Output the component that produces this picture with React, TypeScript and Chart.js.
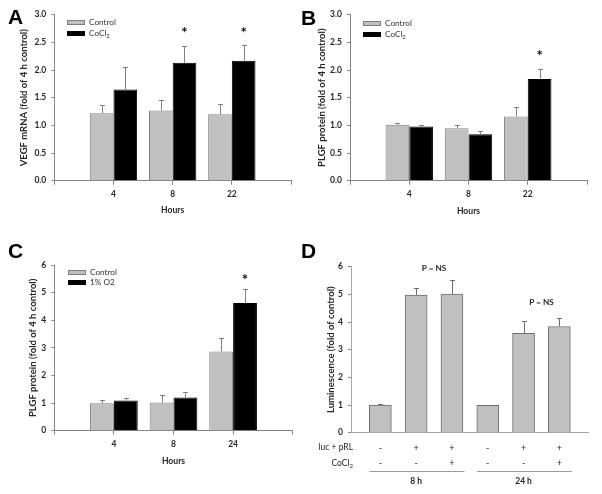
import React, { useEffect, useRef } from 'react';
import { Chart, registerables } from 'chart.js';

Chart.register(...registerables);

const W = 602;
const H = 494;
const FONT = 'Lato, "Open Sans", "DejaVu Sans", sans-serif';
const TEXT = '#262626';
const AXIS = '#868686';

// ---------- Panel A: VEGF mRNA ----------
const hoursA = ['', '4', '8', '22', ''];
const vegfControl = [null, 1.22, 1.27, 1.2, null];
const vegfControlErr = [null, 0.14, 0.19, 0.19, null];
const vegfCoCl2 = [null, 1.65, 2.13, 2.17, null];
const vegfCoCl2Err = [null, 0.4, 0.31, 0.29, null];
const vegfStars = [null, null, 2.72, 2.72, null];

// ---------- Panel B: PLGF protein (CoCl2) ----------
const hoursB = ['', '4', '8', '22', ''];
const plgfControlB = [null, 1.01, 0.95, 1.16, null];
const plgfControlBErr = [null, 0.03, 0.05, 0.17, null];
const plgfCoCl2B = [null, 0.98, 0.84, 1.84, null];
const plgfCoCl2BErr = [null, 0.02, 0.05, 0.17, null];
const plgfStarsB = [null, null, null, 2.31, null];

// ---------- Panel C: PLGF protein (1% O2) ----------
const hoursC = ['', '4', '8', '24', ''];
const plgfControlC = [null, 0.99, 1.02, 2.87, null];
const plgfControlCErr = [null, 0.12, 0.26, 0.47, null];
const plgfHypoxiaC = [null, 1.09, 1.2, 4.62, null];
const plgfHypoxiaCErr = [null, 0.11, 0.21, 0.5, null];
const plgfStarsC = [null, null, null, 5.58, null];

// ---------- Panel D: Luminescence ----------
const lumPositions = [1, 2, 3, 4, 5, 6];
const lumValues = [1.0, 4.97, 5.01, 0.99, 3.59, 3.84];
const lumErr = [0.02, 0.25, 0.5, 0.01, 0.45, 0.3];
const lucRow = ['-', '+', '+', '-', '+', '+'];
const cocl2Row = ['-', '-', '+', '-', '-', '+'];
const timeGroups = ['8 h', '24 h'];
const timeSpans = [[1, 3], [4, 6]];
const pnsPairs = [[2, 3], [5, 6]];
const pnsLevels = [5.95, 4.72];
const pnsText = 'P = NS';

// ---------- helpers ----------
function drawRich(ctx: CanvasRenderingContext2D, text: string, x: number, y: number, size: number, weight: string, align: string) {
  const parts = text.split('\u2082');
  const main = `${weight} ${size}px ${FONT}`;
  const sub = `${weight} ${Math.round(size * 0.68)}px ${FONT}`;
  let total = 0;
  parts.forEach((p, i) => {
    ctx.font = main;
    total += ctx.measureText(p).width;
    if (i < parts.length - 1) {
      ctx.font = sub;
      total += ctx.measureText('2').width;
    }
  });
  let cx = align === 'right' ? x - total : align === 'center' ? x - total / 2 : x;
  ctx.textAlign = 'left';
  ctx.textBaseline = 'middle';
  parts.forEach((p, i) => {
    ctx.font = main;
    ctx.fillText(p, cx, y);
    cx += ctx.measureText(p).width;
    if (i < parts.length - 1) {
      ctx.font = sub;
      ctx.fillText('2', cx, y + size * 0.3);
      cx += ctx.measureText('2').width;
    }
  });
}

const errorBarPlugin = {
  id: 'errorBars',
  afterDatasetsDraw(chart: any) {
    const ctx = chart.ctx;
    const ys = chart.scales.y;
    chart.data.datasets.forEach((ds: any, di: number) => {
      if (!ds.errors) return;
      const meta = chart.getDatasetMeta(di);
      meta.data.forEach((bar: any, i: number) => {
        const raw = ds.data[i];
        const v = raw && typeof raw === 'object' ? raw.y : raw;
        const e = ds.errors[i];
        if (v == null || e == null) return;
        const x = Math.round(bar.x) + 0.5;
        const base = ys.getPixelForValue(v);
        const top = Math.round(ys.getPixelForValue(v + e)) + 0.5;
        ctx.save();
        ctx.strokeStyle = ds.errorColor || AXIS;
        ctx.lineWidth = 1;
        ctx.beginPath();
        ctx.moveTo(x, base);
        ctx.lineTo(x, top);
        ctx.moveTo(x - 2.5, top);
        ctx.lineTo(x + 2.5, top);
        ctx.stroke();
        ctx.restore();
      });
    });
  },
};

const starPlugin = {
  id: 'stars',
  afterDatasetsDraw(chart: any) {
    const ctx = chart.ctx;
    const ys = chart.scales.y;
    chart.data.datasets.forEach((ds: any, di: number) => {
      if (!ds.stars) return;
      const meta = chart.getDatasetMeta(di);
      meta.data.forEach((bar: any, i: number) => {
        const lvl = ds.stars[i];
        if (lvl == null) return;
        ctx.save();
        ctx.fillStyle = '#111';
        ctx.font = `bold 15px ${FONT}`;
        ctx.textAlign = 'center';
        ctx.textBaseline = 'alphabetic';
        ctx.fillText('*', bar.x, ys.getPixelForValue(lvl) + 8);
        ctx.restore();
      });
    });
  },
};

const boxLegendPlugin = {
  id: 'boxLegend',
  afterDraw(chart: any, _args: any, opts: any) {
    if (!opts || !opts.show) return;
    const { ctx, chartArea } = chart;
    chart.data.datasets.forEach((ds: any, i: number) => {
      const cy = chartArea.top + opts.dy + i * opts.gap;
      const x0 = Math.round(chartArea.left + opts.dx);
      const yTop = Math.round(cy - 2.5);
      ctx.save();
      ctx.fillStyle = ds.backgroundColor;
      ctx.fillRect(x0, yTop, 18, 5);
      ctx.strokeStyle = ds.borderColor;
      ctx.lineWidth = 1;
      ctx.strokeRect(x0 + 0.5, yTop + 0.5, 17, 4);
      ctx.fillStyle = '#333';
      drawRich(ctx, ds.label, x0 + 22, cy, 8.2, 'normal', 'left');
      ctx.restore();
    });
  },
};

const rowLabelPlugin = {
  id: 'rowLabels',
  afterDraw(chart: any) {
    const ctx = chart.ctx;
    const xs = chart.scales.x;
    const ys = chart.scales.y;
    const b = chart.chartArea.bottom;
    const left = chart.chartArea.left;
    ctx.save();
    ctx.fillStyle = TEXT;
    drawRich(ctx, 'luc + pRL', left + 2, b + 15, 8.5, 'normal', 'right');
    drawRich(ctx, 'CoCl\u2082', left + 2, b + 30.5, 8.5, 'normal', 'right');
    ctx.font = `normal 9px ${FONT}`;
    ctx.textAlign = 'center';
    ctx.textBaseline = 'middle';
    lumPositions.forEach((p, i) => {
      const x = xs.getPixelForValue(p);
      ctx.fillText(lucRow[i], x, b + 15);
      ctx.fillText(cocl2Row[i], x, b + 30.5);
    });
    ctx.strokeStyle = '#9a9a9a';
    ctx.lineWidth = 1;
    timeSpans.forEach((span, gi) => {
      const x1 = xs.getPixelForValue(span[0] - 0.3);
      const x2 = xs.getPixelForValue(span[1] + 0.35);
      ctx.beginPath();
      ctx.moveTo(x1, Math.round(b + 38) + 0.5);
      ctx.lineTo(x2, Math.round(b + 38) + 0.5);
      ctx.stroke();
      ctx.font = `bold 8.5px ${FONT}`;
      ctx.fillText(timeGroups[gi], xs.getPixelForValue((span[0] + span[1]) / 2), b + 49);
    });
    ctx.font = `bold 8.2px ${FONT}`;
    pnsPairs.forEach((pair, i) => {
      const x = xs.getPixelForValue((pair[0] + pair[1]) / 2);
      ctx.fillText(pnsText, x, ys.getPixelForValue(pnsLevels[i]));
    });
    ctx.restore();
  },
};

type Area = { left: number; right: number; top: number; bottom: number };

function frame(area: Area, yTitleX: number, xBottom: number, yTitleLH: number) {
  const padLeft = yTitleX - yTitleLH / 2;
  return {
    padding: { left: padLeft, right: W - area.right, top: area.top, bottom: H - xBottom },
    yWidth: area.left - padLeft,
    xHeight: xBottom - area.bottom,
  };
}

function yScale(max: number, step: number, decimals: number, title: string, yWidth: number) {
  return {
    min: 0,
    max,
    ticks: {
      stepSize: step,
      callback: (v: any) => Number(v).toFixed(decimals),
      font: { family: FONT, size: 8.5, weight: 'bold' },
      color: TEXT,
      padding: 5,
    },
    grid: { drawOnChartArea: false, drawTicks: true, tickLength: 3, color: AXIS },
    border: { display: true, color: AXIS },
    title: { display: true, text: title, font: { family: FONT, size: 9.5, weight: 'bold' }, color: TEXT, padding: 0 },
    afterFit: (s: any) => {
      s.width = yWidth;
    },
  };
}

function groupedConfig(p: any) {
  const f = frame(p.area, p.yTitleX, p.xBottom, 11.4);
  return {
    type: 'bar',
    data: {
      labels: p.labels,
      datasets: [
        {
          label: p.names[0],
          data: p.ctrl,
          errors: p.ctrlErr,
          stars: p.ctrlStars,
          backgroundColor: '#c0c0c0',
          borderColor: '#808080',
          borderWidth: 1,
          errorColor: '#808080',
        },
        {
          label: p.names[1],
          data: p.trt,
          errors: p.trtErr,
          stars: p.trtStars,
          backgroundColor: '#000000',
          borderColor: '#000000',
          borderWidth: 1,
          errorColor: '#808080',
        },
      ],
    },
    options: {
      responsive: false,
      animation: false,
      devicePixelRatio: 1,
      events: [],
      layout: { padding: f.padding },
      datasets: { bar: { categoryPercentage: 0.8, barPercentage: 1 } },
      plugins: {
        legend: { display: false },
        tooltip: { enabled: false },
        boxLegend: { show: true, dx: p.legend[0], dy: p.legend[1], gap: p.legend[2] },
      },
      scales: {
        x: {
          type: 'category',
          offset: false,
          grid: { offset: false, drawOnChartArea: false, drawTicks: true, tickLength: 4, color: AXIS },
          border: { display: true, color: AXIS },
          ticks: {
            autoSkip: false,
            maxRotation: 0,
            font: { family: FONT, size: 8.5, weight: 'bold' },
            color: TEXT,
            padding: 4,
          },
          title: { display: true, text: 'Hours', font: { family: FONT, size: 8.6, weight: 'bold' }, color: TEXT, padding: 0 },
          afterFit: (s: any) => {
            s.height = f.xHeight;
          },
        },
        y: yScale(p.max, p.step, p.decimals, p.yTitle, f.yWidth),
      },
    },
    plugins: [errorBarPlugin, starPlugin, boxLegendPlugin],
  };
}

function configA() {
  return groupedConfig({
    area: { left: 54.3, right: 291, top: 14.7, bottom: 180.7 },
    yTitleX: 24.3,
    xBottom: 215.5,
    labels: hoursA,
    names: ['Control', 'CoCl\u2082'],
    ctrl: vegfControl,
    ctrlErr: vegfControlErr,
    ctrlStars: null,
    trt: vegfCoCl2,
    trtErr: vegfCoCl2Err,
    trtStars: vegfStars,
    max: 3,
    step: 0.5,
    decimals: 1,
    yTitle: 'VEGF mRNA (fold of 4 h control)',
    legend: [12.4, 7.8, 11],
  });
}

function configB() {
  return groupedConfig({
    area: { left: 350, right: 587, top: 14.7, bottom: 180.7 },
    yTitleX: 321.7,
    xBottom: 216.2,
    labels: hoursB,
    names: ['Control', 'CoCl\u2082'],
    ctrl: plgfControlB,
    ctrlErr: plgfControlBErr,
    ctrlStars: null,
    trt: plgfCoCl2B,
    trtErr: plgfCoCl2BErr,
    trtStars: plgfStarsB,
    max: 3,
    step: 0.5,
    decimals: 1,
    yTitle: 'PLGF protein (fold of 4 h control)',
    legend: [13.3, 9.1, 11],
  });
}

function configC() {
  return groupedConfig({
    area: { left: 54.3, right: 292.7, top: 265, bottom: 430.7 },
    yTitleX: 33.3,
    xBottom: 466.2,
    labels: hoursC,
    names: ['Control', '1% O2'],
    ctrl: plgfControlC,
    ctrlErr: plgfControlCErr,
    ctrlStars: null,
    trt: plgfHypoxiaC,
    trtErr: plgfHypoxiaCErr,
    trtStars: plgfStarsC,
    max: 6,
    step: 1,
    decimals: 0,
    yTitle: 'PLGF protein (fold of 4 h control)',
    legend: [14, 7.3, 10],
  });
}

function configD() {
  const area = { left: 351, right: 588, top: 266.7, bottom: 432.7 };
  const f = frame(area, 330.7, 472.7, 11.4);
  return {
    type: 'bar',
    data: {
      datasets: [
        {
          label: 'Luminescence',
          data: lumPositions.map((x, i) => ({ x, y: lumValues[i] })),
          errors: lumErr,
          backgroundColor: '#c0c0c0',
          borderColor: '#6e6e6e',
          borderWidth: 1,
          errorColor: '#6e6e6e',
          barThickness: 22,
        },
      ],
    },
    options: {
      responsive: false,
      animation: false,
      devicePixelRatio: 1,
      events: [],
      layout: { padding: f.padding },
      plugins: { legend: { display: false }, tooltip: { enabled: false } },
      scales: {
        x: {
          type: 'linear',
          offset: false,
          min: 0.18,
          max: 6.8,
          ticks: { display: false },
          grid: { display: false, offset: false },
          border: { display: true, color: '#a6a6a6' },
          afterFit: (s: any) => {
            s.height = f.xHeight;
          },
        },
        y: {
          ...yScale(6, 1, 0, 'Luminescence (fold of control)', f.yWidth),
          border: { display: true, color: '#a6a6a6' },
        },
      },
    },
    plugins: [errorBarPlugin, rowLabelPlugin],
  };
}

function ChartCanvas({ make }: { make: () => any }) {
  const ref = useRef<HTMLCanvasElement | null>(null);
  useEffect(() => {
    if (!ref.current) return;
    const chart = new Chart(ref.current, make());
    return () => chart.destroy();
  }, [make]);
  return (
    <canvas
      ref={ref}
      width={W}
      height={H}
      style={{ position: 'absolute', left: 0, top: 0, width: W, height: H }}
    />
  );
}

const letterStyle: React.CSSProperties = {
  position: 'absolute',
  fontFamily: '"Liberation Sans", Arial, sans-serif',
  fontWeight: 'bold',
  fontSize: 21,
  lineHeight: '21px',
  color: '#000',
};

export default function App() {
  return (
    <div
      style={{
        position: 'fixed',
        left: 0,
        top: 0,
        width: W,
        height: H,
        background: '#fff',
        overflow: 'hidden',
      }}
    >
      <ChartCanvas make={configA} />
      <ChartCanvas make={configB} />
      <ChartCanvas make={configC} />
      <ChartCanvas make={configD} />
      <div style={{ ...letterStyle, left: 8, top: 6 }}>A</div>
      <div style={{ ...letterStyle, left: 301, top: 7 }}>B</div>
      <div style={{ ...letterStyle, left: 8, top: 240 }}>C</div>
      <div style={{ ...letterStyle, left: 301, top: 240 }}>D</div>
    </div>
  );
}
